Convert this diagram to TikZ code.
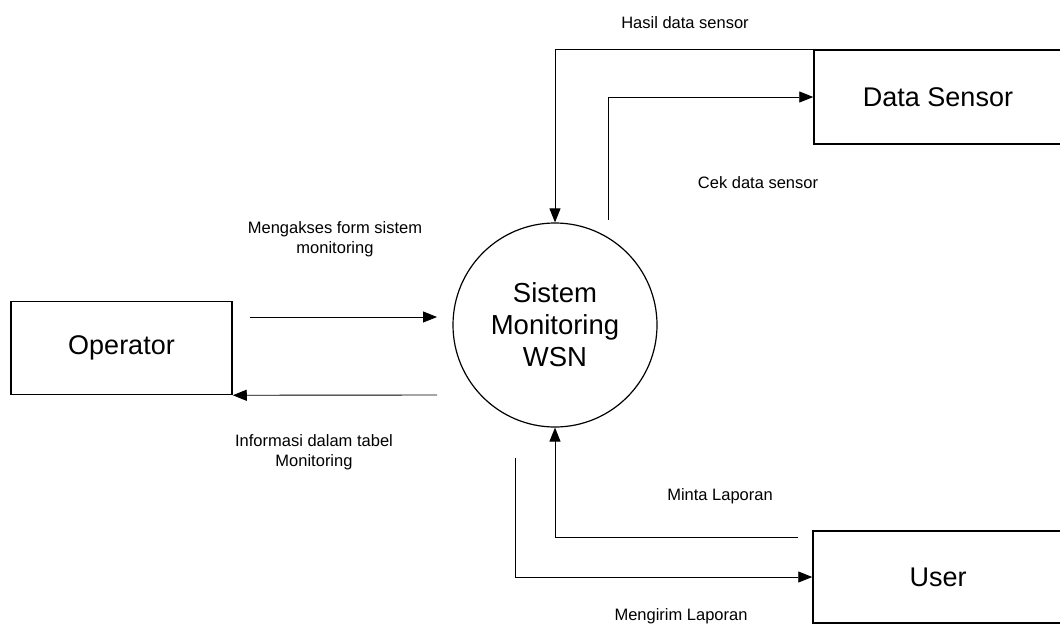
\documentclass[tikz,border=0pt]{standalone}
\usepackage{fontspec}
\setmainfont{Liberation Sans}
\usetikzlibrary{arrows.meta}
\tikzset{
	entitas/.style={draw,line width=1.5pt,minimum height=93pt,font=\fontsize{27}{32}\selectfont},
	proses/.style={draw,circle,line width=1.2pt,minimum size=204pt,align=center,font=\fontsize{27.5}{32}\selectfont},
	alur/.style={->,line width=0.9pt},
	ket/.style={align=center,font=\fontsize{16.5}{19.5}\selectfont}
}
\begin{document}
\begin{tikzpicture}[x=1pt,y=-1pt,>={Triangle[length=14pt,width=11pt]}]
	\useasboundingbox (0,0) rectangle (1060,627);
	\node[entitas,minimum width=221pt] (op) at (121.5,348) {Operator};
	\node[proses] (sis) at (555,325) {Sistem\\Monitoring\\WSN};
	\node[entitas,minimum width=248pt,minimum height=94pt] (ds) at (938,97) {Data Sensor};
	\node[entitas,minimum width=250pt,minimum height=92pt] (usr) at (938,577) {User};
	\path (250,317) coordinate (akses0)
		(437,317) coordinate (akses1)
		(437,395) coordinate (info0)
		(608,220) coordinate (cek0)
		(798,537) coordinate (minta0)
		(515,458) coordinate (kirim0);
	% alur data
	\draw[alur] (akses0)--(akses1);
	\draw[alur] (info0)--(op.south east);
	\draw[alur] (ds.north west)-|(sis.north);
	\draw[alur] (cek0)|-(ds.west);
	\draw[alur] (minta0)-|(sis.south);
	\draw[alur] (kirim0)|-(usr.west);
	\foreach \x/\y/\t in {335/239/{Mengakses form sistem\\monitoring},
		314/452/{Informasi dalam tabel\\Monitoring},
		685/23/Hasil data sensor,758/183/Cek data sensor,
		720/496/Minta Laporan,681/616/Mengirim Laporan}{
		\node[ket] at (\x,\y) {\t};
	}
\end{tikzpicture}
\end{document}
